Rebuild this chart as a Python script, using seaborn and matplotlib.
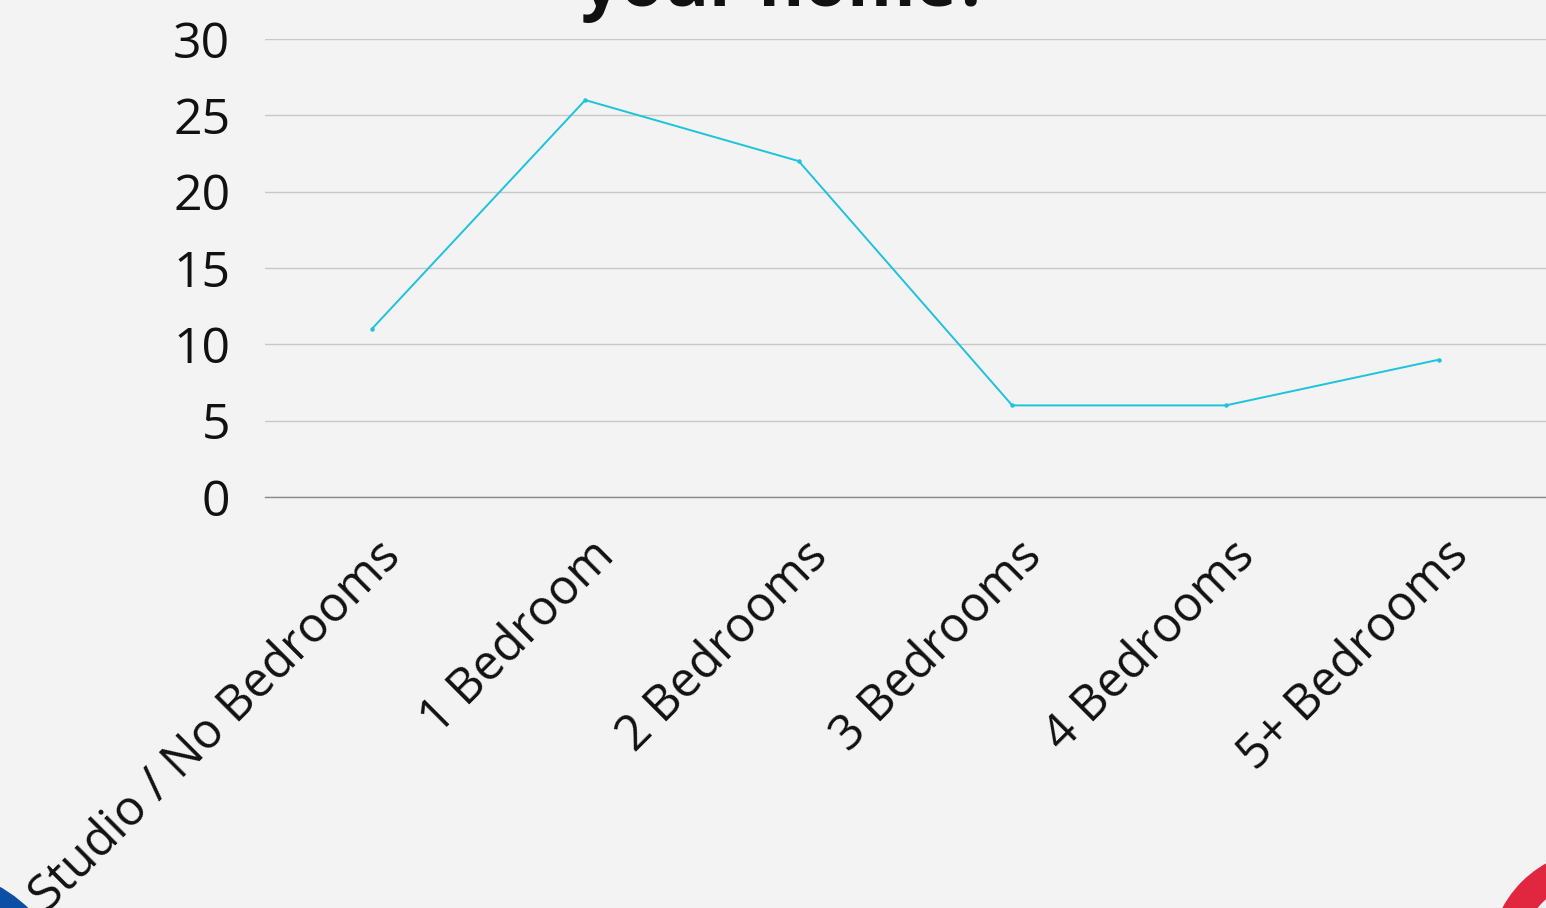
import pandas as pd
import matplotlib.pyplot as plt
import matplotlib.patches as mpatches
from matplotlib.transforms import ScaledTranslation
import seaborn as sns

# data
categories = ['Studio / No Bedrooms', '1 Bedroom', '2 Bedrooms', '3 Bedrooms', '4 Bedrooms', '5+ Bedrooms']
responses = [11, 26, 22, 6, 6, 9]
y_ticks = [0, 5, 10, 15, 20, 25, 30]

df = pd.DataFrame({'Bedrooms': categories, 'Responses': responses})

bg = '#f3f3f3'
sns.set_theme(style='white')
plt.rcParams['font.family'] = ['Open Sans', 'DejaVu Sans']

fig = plt.figure(figsize=(15.46, 9.08), dpi=100, facecolor=bg)
ax = fig.add_axes([265 / 1546, 1 - 497 / 908, 1 - 265 / 1546, (497 - 39) / 908])
ax.set_facecolor(bg)

sns.lineplot(data=df, x='Bedrooms', y='Responses', sort=False, ax=ax,
             color='#1cc3dc', linewidth=1.4, marker='o', markersize=3.2,
             markeredgewidth=0)

ax.set_xlim(-0.5, 5.5)
ax.set_ylim(0, 30)
ax.set_yticks(y_ticks)
ax.set_yticklabels([str(v) for v in y_ticks], fontsize=36, color='#111111')
ax.set_xticks(range(len(categories)))
ax.set_xticklabels(categories, fontsize=35, color='#111111', rotation=45,
                   rotation_mode='anchor', ha='right', va='center')
ax.tick_params(axis='y', length=0, pad=25)
ax.tick_params(axis='x', length=0, pad=36)
ax.set_xlabel('')
ax.set_ylabel('')

# nudge the rotated labels to the right, as in the reference
shift = ScaledTranslation(0.22, -0.02, fig.dpi_scale_trans)
for lbl in ax.get_xticklabels():
    lbl.set_transform(lbl.get_transform() + shift)

ax.grid(axis='y', color='#c8c8c8', linewidth=1)
ax.grid(axis='x', visible=False)
for side in ['top', 'right', 'left']:
    ax.spines[side].set_visible(False)
ax.spines['bottom'].set_color('#8a8a8a')
ax.spines['bottom'].set_linewidth(1)

# title, cut off at the top of the canvas as in the reference
fig.text(785 / 1546, 1 - 6 / 908, 'your home?', ha='center', va='baseline',
         fontsize=50, fontweight='bold', color='#111111')

# decorative shapes in the corners
fig.patches.append(mpatches.Circle((-0.70, -1.02), 1.41, color='#0d4fa3',
                                   transform=fig.dpi_scale_trans, zorder=0))
fig.patches.append(mpatches.Wedge((16.00, -0.52), 1.10, 0, 360, width=0.28,
                                  color='#e1263f', transform=fig.dpi_scale_trans, zorder=0))

fig.savefig('out.png', dpi=100, facecolor=bg)
